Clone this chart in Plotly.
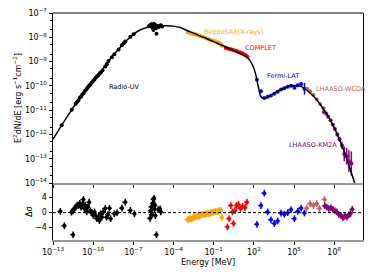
import numpy as np
import plotly.graph_objects as go
from plotly.subplots import make_subplots

# ---------------- data (log10 E [MeV], log10 E^2 dN/dE [erg s^-1 cm^-2]) ----------------
model_logE = [-13, -12.5, -12, -11.5, -11, -10.5, -10, -9.5, -9, -8.5, -8, -7.5, -7, -6.5, -6, -5.5,
              -5, -4.5, -4, -3.5, -3, -2.5, -2, -1.5, -1, -0.5, 0, 0.5, 1, 1.5, 1.9, 2.15, 2.33, 2.53,
              2.75, 3.0, 3.3, 3.65, 4.0, 4.5, 5.0, 5.5, 6.0, 6.5, 7.0, 7.5, 8.0, 8.5, 9.0, 9.53]
model_logF = [-12.2, -11.75, -11.32, -10.9, -10.5, -10.13, -9.8, -9.48, -9.08, -8.74, -8.43, -8.13, -7.88,
              -7.7, -7.6, -7.55, -7.53, -7.52, -7.54, -7.6, -7.72, -7.83, -7.95, -8.06, -8.18, -8.3, -8.42,
              -8.55, -8.68, -8.82, -9.14, -9.55, -10.03, -10.45, -10.52, -10.48, -10.38, -10.26, -10.15,
              -10.04, -9.99, -10.02, -10.2, -10.45, -10.8, -11.2, -11.72, -12.35, -13.1, -14.0]

radio_logE = [-12.35, -11.6, -11.3, -11.2, -11.1, -11.0, -10.9, -10.8, -10.7, -10.6, -10.5, -10.4, -10.3,
              -10.2, -10.1, -10.0, -9.9, -9.8, -9.7, -9.6, -9.5, -9.4, -9.3, -9.1, -8.97, -8.85, -8.6,
              -8.42, -8.1, -7.85, -7.72, -7.6, -7.22, -6.98, -5.85, -5.75, -5.65, -5.6, -5.55, -5.5, -5.45,
              -5.4, -5.35, -5.3, -5.27, -5.2, -5.1, -4.95, -4.85]
radio_logF = [-11.62, -10.98, -10.74, -10.66, -10.6, -10.49, -10.44, -10.35, -10.29, -10.2, -10.14, -10.06,
              -10.0, -9.94, -9.86, -9.8, -9.74, -9.66, -9.6, -9.55, -9.48, -9.43, -9.36, -9.2, -9.1, -8.98,
              -8.82, -8.7, -8.5, -8.33, -8.25, -8.17, -7.98, -7.88, -7.55, -7.5, -7.46, -7.6, -7.48, -7.7,
              -7.45, -7.55, -7.5, -7.62, -7.85, -7.52, -7.58, -7.5, -7.56]
radio_res_logE = [-12.45, -12.15, -11.5, -11.62, -11.5, -11.4, -11.3, -11.2, -11.1, -11.0, -10.9, -10.8,
                  -10.73, -10.65, -10.6, -10.55, -10.48, -10.4, -10.3, -10.2, -10.1, -10.0, -9.9, -9.8,
                  -9.73, -9.6, -9.53, -9.45, -9.35, -9.25, -9.1, -9.0, -8.9, -8.78, -8.7, -8.42, -8.22,
                  -7.85, -7.6, -7.22, -6.92, -5.75, -5.7, -5.65, -5.6, -5.55, -5.5, -5.45, -5.42, -5.38,
                  -5.35, -5.27, -5.15, -5.0, -4.95]
radio_res = [0.35, -3.5, -5.9, 0.1, 0.5, 1.0, 1.5, 2.0, 1.9, 2.5, 1.5, 2.2, 3.5, 1.2, 2.0, 0.8, 0.2, 1.5,
             2.8, 0.5, 0.0, -0.7, 0.2, -0.9, -1.6, -1.2, -2.1, -0.3, -1.2, 0.2, 1.1, -1.2, -0.5, 1.2, -1.6,
             -0.3, 0.0, 1.2, 2.8, 0.6, -0.3, -1.5, 0.5, 1.5, -0.5, 2.5, 3.5, 3.8, 1.0, 2.0, -0.8, -5.9,
             0.8, 1.0, 0.2]

sax_logE = [-2.95, -2.85, -2.75, -2.65, -2.55, -2.45, -2.35, -2.25, -2.15, -2.05, -1.95, -1.85, -1.75,
            -1.65, -1.55, -1.45, -1.35, -1.25, -1.15, -1.05, -0.95, -0.85, -0.75, -0.65, -0.55, -0.45, -0.38]
sax_logF = [-7.79, -7.8, -7.82, -7.84, -7.85, -7.87, -7.88, -7.9, -7.92, -7.94, -7.96, -7.98, -8.0, -8.02,
            -8.04, -8.06, -8.08, -8.1, -8.12, -8.13, -8.15, -8.17, -8.2, -8.22, -8.25, -8.3, -8.35]
sax_res = [-1.9, -1.8, -1.6, -1.7, -1.4, -1.2, -1.1, -0.9, -0.8, -0.9, -0.6, -0.5, -0.4, -0.5, -0.3, -0.2,
           -0.3, -0.1, 0.1, 0.0, 0.2, 0.3, 0.2, 0.5, 0.4, 0.6, -1.3]

comptel_logE = [-0.1, 0.05, 0.2, 0.35, 0.5, 0.65, 0.8, 0.95, 1.1, 1.25, 1.4, 1.52]
comptel_logF = [-8.44, -8.47, -8.48, -8.5, -8.53, -8.55, -8.58, -8.62, -8.65, -8.7, -8.74, -8.8]
comptel_res_logE = [0.03, 0.15, 0.28, 0.4, 0.48, 0.6, 0.7, 0.85, 1.0, 1.15, 1.35, 1.48]
comptel_res = [-3.8, -1.6, 1.9, 0.2, -2.9, 0.6, 1.9, 2.2, 1.1, 1.7, 1.4, 2.8]

fermi_logE = [2.23, 2.53, 2.78, 3.03, 3.28, 3.53, 3.78, 4.03, 4.28, 4.53, 4.78, 5.03, 5.28, 5.53, 5.78]
fermi_logF = [-9.75, -10.22, -10.5, -10.45, -10.4, -10.32, -10.24, -10.15, -10.1, -10.04, -10.0, -10.08,
              -9.97, -9.92, -10.12]
fermi_err = [0.03, 0.03, 0.03, 0.03, 0.03, 0.03, 0.03, 0.03, 0.03, 0.03, 0.04, 0.04, 0.05, 0.07, 0.24]
fermi_res = [-3.1, 1.9, 5.2, 0.2, -1.9, -2.9, -2.2, -0.1, -0.4, 0.0, 0.8, -1.6, 0.35, 1.2, -0.1]

wcda_logE = [5.98, 6.2, 6.45, 6.7, 6.95, 7.2]
wcda_logF = [-10.12, -10.22, -10.38, -10.55, -10.75, -10.92]
wcda_res_logE = [5.95, 6.2, 6.45, 6.7, 6.9, 7.28]
wcda_res = [1.2, 2.4, 1.9, 2.4, 1.1, 3.5]

km2a_logE = [7.23, 7.4, 7.55, 7.73, 7.9, 8.05, 8.23, 8.4, 8.58, 8.75, 8.93, 9.1, 9.28]
km2a_logF = [-11.08, -11.15, -11.27, -11.42, -11.6, -11.78, -12.0, -12.2, -12.45, -12.8, -12.9, -13.1, -13.2]
km2a_err = [0.04, 0.04, 0.04, 0.05, 0.05, 0.06, 0.07, 0.1, 0.15, 0.3, 0.35, 0.45, 0.5]
km2a_res_logE = [7.3, 7.45, 7.6, 7.75, 7.9, 8.05, 8.2, 8.35, 8.5, 8.65, 8.8, 8.95, 9.1, 9.22, 9.35]
km2a_res = [1.8, 1.5, 1.1, 1.3, 0.9, 0.5, 0.2, -0.5, -0.7, -1.4, -0.9, -1.2, -0.5, -0.3, 0.9]

x_ticks_log = [-13, -10, -7, -4, -1, 2, 5, 8]
y_ticks_log = [-14, -13, -12, -11, -10, -9, -8, -7]
res_ticks = [-4, 0, 4]

labels = [("Radio-UV", -8.95, -10.05, "black"),
          ("BeppoSAX(X-rays)", -1.85, -7.77, "#FFA500"),
          ("COMPLET", 1.16, -8.43, "red"),
          ("Fermi-LAT", 2.85, -9.59, "blue"),
          ("LHAASO-WCDA", 6.48, -10.14, "#CD5C5C"),
          ("LHAASO-KM2A", 4.48, -12.43, "purple")]

FONT = "DejaVu Sans"


def sup(n):
    return "10<sup>" + str(n).replace("-", "\u2212") + "</sup>"


def yerr(logF, e):
    lf = np.array(logF)
    e = np.array(e) if np.ndim(e) else np.full(len(lf), e)
    up = 10 ** (lf + e) - 10 ** lf
    dn = 10 ** lf - 10 ** (lf - e)
    return dict(type="data", array=up, arrayminus=dn, symmetric=False, thickness=1.5, width=0)


fig = make_subplots(rows=2, cols=1, shared_xaxes=True, vertical_spacing=0, row_heights=[0.749, 0.251])


def add_series(logE, logF, err, color, size=4):
    fig.add_trace(go.Scatter(x=10 ** np.array(logE), y=10 ** np.array(logF), mode="markers",
                             marker=dict(color=color, size=size),
                             error_y=dict(yerr(logF, err), color=color),
                             showlegend=False, hoverinfo="skip"), row=1, col=1)


def add_res(logE, res, color, size=4):
    fig.add_trace(go.Scatter(x=10 ** np.array(logE), y=res, mode="markers",
                             marker=dict(color=color, size=size),
                             error_y=dict(type="constant", value=0.9, color=color, thickness=1.5, width=0),
                             error_x=dict(type="percent", value=40, color=color, thickness=1.2, width=0),
                             showlegend=False, hoverinfo="skip"), row=2, col=1)


add_series(radio_logE, radio_logF, 0.06, "black")
add_series(sax_logE, sax_logF, 0.03, "#FFA500")
add_series(comptel_logE, comptel_logF, 0.03, "red")
add_series(fermi_logE, fermi_logF, fermi_err, "blue")
add_series(wcda_logE, wcda_logF, 0.03, "#CD5C5C")
add_series(km2a_logE, km2a_logF, km2a_err, "purple")

fig.add_trace(go.Scatter(x=10 ** np.array(model_logE), y=10 ** np.array(model_logF), mode="lines",
                         line=dict(color="black", width=1.5, shape="spline", smoothing=0.6),
                         showlegend=False, hoverinfo="skip"), row=1, col=1)

add_res(radio_res_logE, radio_res, "black")
add_res(sax_logE, sax_res, "#FFA500")
add_res(comptel_res_logE, comptel_res, "red")
add_res(fermi_logE, fermi_res, "blue")
add_res(wcda_res_logE, wcda_res, "#CD5C5C")
add_res(km2a_res_logE, km2a_res, "purple")

fig.add_shape(type="line", xref="x2 domain", x0=0, x1=1, yref="y2", y0=0, y1=0,
              line=dict(color="black", width=1, dash="3px,2px"))
fig.add_shape(type="line", xref="paper", x0=0, x1=1, yref="paper", y0=1, y1=1,
              line=dict(color="black", width=1.2))

tickfont = dict(family=FONT, size=8, color="black")
xr = [-13, 10.15]
fig.update_xaxes(type="log", range=xr, showgrid=False, zeroline=False, ticks="outside", ticklen=3.5,
                 tickwidth=0.8, tickcolor="black", tickvals=[10.0 ** v for v in x_ticks_log],
                 ticktext=[sup(v) for v in x_ticks_log], tickfont=tickfont, automargin=False,
                 showline=True, linecolor="#999999", linewidth=1.5, mirror=False)
fig.update_xaxes(showticklabels=False, row=1, col=1)
fig.update_yaxes(type="log", range=[-14, -7], showgrid=False, zeroline=False, ticks="outside",
                 ticklen=3.5, tickwidth=0.8, tickcolor="black", automargin=False,
                 tickvals=[10.0 ** v for v in y_ticks_log], ticktext=[sup(v) for v in y_ticks_log],
                 tickfont=tickfont, showline=True, linecolor="black", linewidth=1, mirror=True,
                 minor=dict(ticks="outside", ticklen=2, tickwidth=0.6, tickcolor="black", showgrid=False),
                 row=1, col=1)
fig.update_yaxes(range=[-7.3, 7.9], showgrid=False, zeroline=False, ticks="outside", ticklen=3.5,
                 tickwidth=0.8, tickcolor="black", tickvals=res_ticks, automargin=False,
                 ticktext=[str(v).replace("-", "\u2212") for v in res_ticks], tickfont=tickfont,
                 showline=True, linecolor="black", linewidth=1, mirror=True, row=2, col=1)

for text, lx, ly, color in labels:
    fig.add_annotation(x=lx, y=ly, xref="x", yref="y", text=text, showarrow=False, xanchor="left",
                       yanchor="middle", font=dict(family=FONT, size=6.5, color=color))

fig.add_annotation(x=-0.116, y=0.626, xref="paper", yref="paper", textangle=-90, showarrow=False,
                   xanchor="center", yanchor="middle",
                   text="E<sup>2</sup>dN/dE [erg s<sup>\u22121</sup>cm<sup>\u22122</sup>]",
                   font=dict(family=FONT, size=8, color="black"))
fig.add_annotation(x=-0.074, y=0.124, xref="paper", yref="paper", textangle=-90, showarrow=False,
                   xanchor="center", yanchor="middle",
                   text="\u0394\u03c3", font=dict(family=FONT, size=8, color="black"))
fig.add_annotation(x=0.5, y=-0.097, xref="paper", yref="paper", showarrow=False,
                   xanchor="center", yanchor="middle",
                   text="Energy [MeV]", font=dict(family=FONT, size=8, color="black"))

fig.update_layout(width=374, height=280, margin=dict(l=53, r=11, t=13, b=40),
                  paper_bgcolor="white", plot_bgcolor="white", showlegend=False, hovermode=False)

fig.write_html("out.html", config={"displayModeBar": False},
               post_script="document.body.style.margin='0';document.body.style.overflow='hidden';")
